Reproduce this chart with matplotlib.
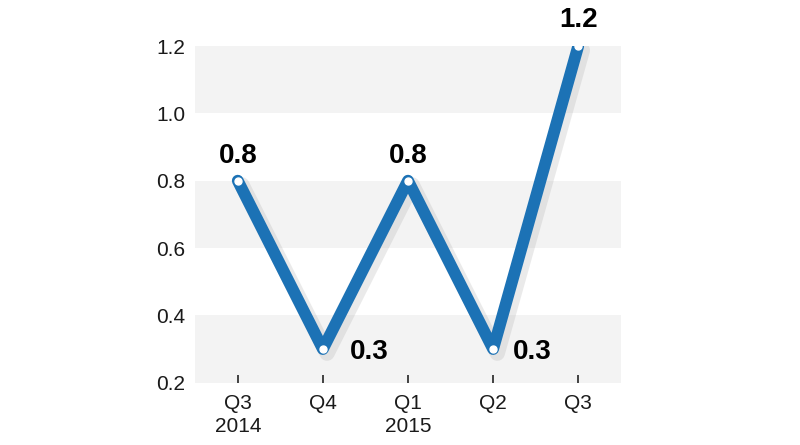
import matplotlib.pyplot as plt
import matplotlib.patheffects as pe

plt.rcParams['font.family'] = ['Liberation Sans', 'DejaVu Sans']

# data
quarters = ["Q3\n2014", "Q4", "Q1\n2015", "Q2", "Q3"]
values = [0.8, 0.3, 0.8, 0.3, 1.2]
# label offsets (points) from each point
label_dx = [0, 19.5, 0, 14.5, 0]
label_dy = [13, 0, 13, 0, 14]

LINE_COLOR = "#1c72b5"
BAND = "#f3f3f3"

fig = plt.figure(figsize=(8, 4.45), dpi=100)
ax = fig.add_axes([0.244, 0.14, 0.532, 0.7566])

x = list(range(len(values)))

# alternating bands
for lo in (0.2, 0.6, 1.0):
    ax.axhspan(lo, lo + 0.2, color=BAND, zorder=0, lw=0)

ax.plot(x, values, color=LINE_COLOR, lw=8.5, solid_capstyle='round',
        solid_joinstyle='round', zorder=3,
        path_effects=[pe.SimpleLineShadow(offset=(3, -3), shadow_color='#999999', alpha=0.2,
                                          linewidth=11),
                      pe.Normal()])
ax.plot(x, values, ls='none', marker='o', ms=5, mfc='white', mec='white', zorder=4)

for xi, v, dx, dy in zip(x, values, label_dx, label_dy):
    if dy:
        ax.annotate(f"{v:.1f}", (xi, v), xytext=(dx, dy), textcoords='offset points',
                    ha='center', va='baseline', fontsize=20, fontweight='bold', zorder=5)
    else:
        ax.annotate(f"{v:.1f}", (xi, v), xytext=(dx, dy), textcoords='offset points',
                    ha='left', va='center_baseline', fontsize=20, fontweight='bold', zorder=5)

ax.set_xlim(-0.5, 4.5)
ax.set_ylim(0.2, 1.2)
ax.set_yticks([0.2, 0.4, 0.6, 0.8, 1.0, 1.2])
ax.set_yticklabels(["0.2", "0.4", "0.6", "0.8", "1.0", "1.2"])
ax.set_xticks(x)
ax.set_xticklabels(quarters, linespacing=1.3)

ax.tick_params(axis='y', length=0, pad=7, labelsize=15, labelcolor='#1a1a1a')
ax.tick_params(axis='x', direction='in', length=6, width=1.3, color='#333333',
               pad=8, labelsize=15, labelcolor='#1a1a1a')
for s in ax.spines.values():
    s.set_visible(False)

fig.savefig("out.png", dpi=100, facecolor='white')
